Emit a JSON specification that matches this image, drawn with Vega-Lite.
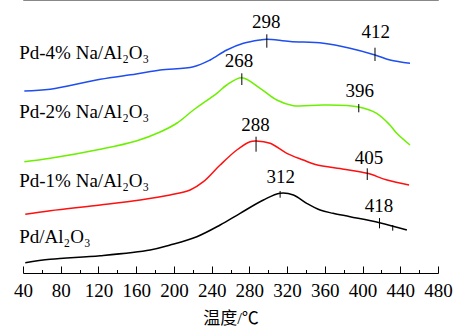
{
  "$schema": "https://vega.github.io/schema/vega-lite/v6.json",
  "width": 415,
  "height": 273,
  "autosize": "none",
  "padding": {"left": 23, "top": 0, "right": 16, "bottom": 61},
  "config": {"view": {"stroke": null}, "font": "Liberation Serif"},
  "datasets": {
    "curves": [
      {"s": "4", "t": 41.4, "v": 182}, {"s": "4", "t": 68.9, "v": 183.7}, {"s": "4", "t": 121.9, "v": 193.7}, {"s": "4", "t": 160, "v": 199}, {"s": "4", "t": 185.4, "v": 203}, {"s": "4", "t": 220.7, "v": 206.3}, {"s": "4", "t": 238.4, "v": 213}, {"s": "4", "t": 256.1, "v": 223}, {"s": "4", "t": 273.7, "v": 229.7}, {"s": "4", "t": 291.4, "v": 233}, {"s": "4", "t": 298.5, "v": 233.7}, {"s": "4", "t": 323.2, "v": 231.5}, {"s": "4", "t": 358.4, "v": 229.7}, {"s": "4", "t": 386.7, "v": 224.7}, {"s": "4", "t": 413.2, "v": 218}, {"s": "4", "t": 429.1, "v": 213}, {"s": "4", "t": 450.3, "v": 209.7},
      {"s": "2", "t": 41.4, "v": 111.3}, {"s": "2", "t": 68.9, "v": 114.7}, {"s": "2", "t": 121.9, "v": 123.7}, {"s": "2", "t": 160, "v": 132}, {"s": "2", "t": 185.4, "v": 141}, {"s": "2", "t": 203.4, "v": 150}, {"s": "2", "t": 220.7, "v": 163}, {"s": "2", "t": 245.5, "v": 179.7}, {"s": "2", "t": 256.1, "v": 188}, {"s": "2", "t": 272, "v": 195.3}, {"s": "2", "t": 291.4, "v": 184.7}, {"s": "2", "t": 309, "v": 173}, {"s": "2", "t": 326.7, "v": 167.3}, {"s": "2", "t": 358.4, "v": 168}, {"s": "2", "t": 396, "v": 166}, {"s": "2", "t": 415, "v": 159.7}, {"s": "2", "t": 429, "v": 148}, {"s": "2", "t": 436, "v": 140}, {"s": "2", "t": 450.3, "v": 128},
      {"s": "1", "t": 42.4, "v": 58.7}, {"s": "1", "t": 68.9, "v": 62.3}, {"s": "1", "t": 121.9, "v": 68}, {"s": "1", "t": 164.3, "v": 73}, {"s": "1", "t": 196, "v": 78}, {"s": "1", "t": 217.2, "v": 83}, {"s": "1", "t": 231.3, "v": 91.3}, {"s": "1", "t": 249, "v": 108}, {"s": "1", "t": 266.7, "v": 123}, {"s": "1", "t": 280.8, "v": 131.3}, {"s": "1", "t": 287.1, "v": 132}, {"s": "1", "t": 302, "v": 129.7}, {"s": "1", "t": 319.7, "v": 119.7}, {"s": "1", "t": 337.2, "v": 113}, {"s": "1", "t": 350, "v": 108.5}, {"s": "1", "t": 380.4, "v": 103.7}, {"s": "1", "t": 405, "v": 99.7}, {"s": "1", "t": 426, "v": 93}, {"s": "1", "t": 449.3, "v": 88},
      {"s": "0", "t": 42.4, "v": 10.3}, {"s": "0", "t": 68.9, "v": 13.7}, {"s": "0", "t": 121.9, "v": 17.3}, {"s": "0", "t": 174.8, "v": 23}, {"s": "0", "t": 196, "v": 28}, {"s": "0", "t": 224.3, "v": 36.3}, {"s": "0", "t": 249, "v": 48}, {"s": "0", "t": 270.2, "v": 59.7}, {"s": "0", "t": 294.9, "v": 73}, {"s": "0", "t": 312.6, "v": 79.7}, {"s": "0", "t": 326.7, "v": 78}, {"s": "0", "t": 340.8, "v": 69.7}, {"s": "0", "t": 355, "v": 63}, {"s": "0", "t": 368.7, "v": 59.7}, {"s": "0", "t": 386.8, "v": 56.3}, {"s": "0", "t": 418, "v": 50.3}, {"s": "0", "t": 447, "v": 43}
    ],
    "ticks": [
      {"t": 298.5, "v1": 238.7, "v2": 225.3}, {"t": 413.2, "v1": 225.3, "v2": 212},
      {"t": 272, "v1": 199.7, "v2": 188}, {"t": 396, "v1": 169, "v2": 160.7},
      {"t": 287.1, "v1": 136.3, "v2": 121.3}, {"t": 405, "v1": 104.7, "v2": 93},
      {"t": 312.6, "v1": 82, "v2": 75.3}, {"t": 418, "v1": 55, "v2": 44.7}, {"t": 432, "v1": 48, "v2": 42.3}
    ],
    "peaks": [
      {"t": 297.8, "v": 244.7, "label": "298"}, {"t": 414, "v": 234.7, "label": "412"},
      {"t": 269, "v": 206.3, "label": "268"}, {"t": 397, "v": 176.3, "label": "396"},
      {"t": 286.4, "v": 142.3, "label": "288"}, {"t": 406.8, "v": 109, "label": "405"},
      {"t": 313.3, "v": 89.7, "label": "312"}, {"t": 417.4, "v": 61.3, "label": "418"}
    ],
    "names": [
      {"t": 36, "v": 214, "label": "Pd-4% Na/Al₂O₃"},
      {"t": 36, "v": 154.7, "label": "Pd-2% Na/Al₂O₃"},
      {"t": 36, "v": 86.3, "label": "Pd-1% Na/Al₂O₃"},
      {"t": 36, "v": 29.7, "label": "Pd/Al₂O₃"}
    ]
  },
  "layer": [
    {
      "data": {"name": "curves"},
      "mark": {"type": "line", "interpolate": "catmull-rom", "strokeWidth": 1.5},
      "encoding": {
        "x": {
          "field": "t", "type": "quantitative",
          "scale": {"domain": [40, 480], "nice": false, "zero": false},
          "axis": {
            "orient": "bottom",
            "values": [40, 80, 120, 160, 200, 240, 280, 320, 360, 400, 440, 480],
            "grid": false, "domainColor": "#000", "domainWidth": 1,
            "tickColor": "#000", "tickSize": -7, "tickWidth": 1,
            "labelFont": "Liberation Serif", "labelFontSize": 19, "labelColor": "#000",
            "labelPadding": 15, "labelFlush": false, "labelOverlap": false,
            "title": "温度/℃", "titleFont": "Liberation Serif, Noto Sans CJK SC",
            "titleFontSize": 17, "titleFontWeight": "normal", "titleColor": "#000",
            "titlePadding": 10
          }
        },
        "y": {
          "field": "v", "type": "quantitative",
          "scale": {"domain": [0, 273], "nice": false, "zero": false},
          "axis": null
        },
        "color": {
          "field": "s", "type": "nominal",
          "scale": {"domain": ["4", "2", "1", "0"], "range": ["#1f4ef0", "#6cf000", "#ff1010", "#000000"]},
          "legend": null
        }
      }
    },
    {
      "data": {"name": "ticks"},
      "mark": {"type": "rule", "color": "#000", "strokeWidth": 1},
      "encoding": {
        "x": {
          "field": "t", "type": "quantitative",
          "axis": {
            "orient": "bottom",
            "values": [60, 100, 140, 180, 220, 260, 300, 340, 380, 420, 460],
            "grid": false, "domain": false, "labels": false, "title": null,
            "tickColor": "#000", "tickSize": -3.5, "tickWidth": 1
          }
        },
        "y": {"field": "v1", "type": "quantitative"},
        "y2": {"field": "v2"}
      }
    },
    {
      "data": {"name": "peaks"},
      "mark": {"type": "text", "font": "Liberation Serif", "fontSize": 19, "align": "center", "baseline": "alphabetic", "color": "#000"},
      "encoding": {
        "x": {"field": "t", "type": "quantitative"},
        "y": {"field": "v", "type": "quantitative"},
        "text": {"field": "label"}
      }
    },
    {
      "data": {"name": "names"},
      "mark": {"type": "text", "font": "Liberation Serif", "fontSize": 19, "align": "left", "baseline": "alphabetic", "color": "#000"},
      "encoding": {
        "x": {"field": "t", "type": "quantitative"},
        "y": {"field": "v", "type": "quantitative"},
        "text": {"field": "label"}
      }
    }
  ],
  "resolve": {"axis": {"x": "independent"}}
}
